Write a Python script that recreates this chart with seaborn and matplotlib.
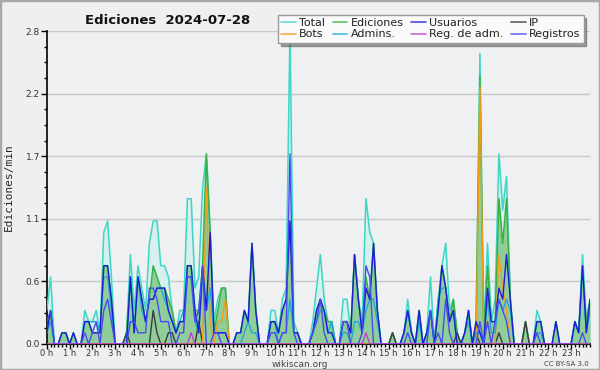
import numpy as np
import pandas as pd
import matplotlib
matplotlib.use('Agg')
import matplotlib.pyplot as plt
import seaborn as sns
from matplotlib.lines import Line2D
from matplotlib.patches import Rectangle
from matplotlib.ticker import FixedLocator, MultipleLocator, FormatStrFormatter

# --- datos: ediciones por minuto, intervalos de 10 min (6 por hora) ---
total = [
    0.3, 0.6, 0, 0, 0.1, 0.1,      # 0 h
    0, 0.1, 0, 0, 0.3, 0.2,        # 1 h
    0.2, 0.3, 0.1, 1.0, 1.1, 0.6,  # 2 h
    0, 0, 0, 0.1, 0.8, 0.3,        # 3 h
    0.7, 0.5, 0.3, 0.9, 1.1, 1.1,  # 4 h
    0.7, 0.7, 0.6, 0.3, 0.1, 0.3,  # 5 h
    0.3, 1.3, 1.3, 0.5, 0.6, 1.4,  # 6 h
    1.7, 1.0, 0.2, 0.4, 0.5, 0.5,  # 7 h
    0, 0, 0.1, 0.1, 0.3, 0.2,      # 8 h
    0.9, 0.3, 0, 0, 0, 0.3,        # 9 h
    0.3, 0.1, 0.4, 0.5, 2.8, 0.2,  # 10 h
    0.1, 0, 0, 0, 0.2, 0.5,        # 11 h
    0.8, 0.4, 0.2, 0.2, 0, 0,      # 12 h
    0.4, 0.4, 0.1, 0.8, 0.4, 0.2,  # 13 h
    1.3, 1.0, 0.9, 0.3, 0, 0,      # 14 h
    0, 0.1, 0, 0, 0.1, 0.4,        # 15 h
    0.1, 0, 0.3, 0, 0.1, 0.6,      # 16 h
    0, 0.4, 0.7, 0.9, 0.3, 0.4,    # 17 h
    0.1, 0, 0.1, 0.3, 0, 0.2,      # 18 h
    2.6, 0.1, 0.9, 0.2, 0.4, 1.7,  # 19 h
    1.2, 1.5, 0.4, 0, 0, 0,        # 20 h
    0.2, 0, 0, 0.3, 0.2, 0,        # 21 h
    0, 0, 0.2, 0, 0, 0,            # 22 h
    0, 0.2, 0.1, 0.8, 0.2, 0.4,    # 23 h
]
ediciones = [
    0.1, 0.3, 0, 0, 0.1, 0.1,
    0, 0.1, 0, 0, 0.2, 0.2,
    0.1, 0.1, 0.1, 0.7, 0.7, 0.4,
    0, 0, 0, 0.1, 0.6, 0.1,
    0.6, 0.4, 0.2, 0.4, 0.7, 0.6,
    0.5, 0.5, 0.4, 0.3, 0.1, 0.2,
    0.2, 0.7, 0.7, 0.3, 0.3, 0.7,
    1.7, 1.0, 0.1, 0.3, 0.5, 0.5,
    0, 0, 0.1, 0.1, 0.3, 0.2,
    0.9, 0.3, 0, 0, 0, 0.2,
    0.2, 0.1, 0.3, 0.4, 1.1, 0.1,
    0.1, 0, 0, 0, 0.1, 0.3,
    0.4, 0.3, 0.2, 0.2, 0, 0,
    0.2, 0.2, 0.1, 0.8, 0.4, 0.1,
    0.6, 0.4, 0.9, 0.3, 0, 0,
    0, 0.1, 0, 0, 0.1, 0.3,
    0.1, 0, 0.3, 0, 0.1, 0.3,
    0, 0.3, 0.7, 0.5, 0.2, 0.4,
    0.1, 0, 0.1, 0.3, 0, 0.2,
    2.4, 0.1, 0.7, 0.2, 0.2, 1.3,
    0.9, 1.3, 0.4, 0, 0, 0,
    0.2, 0, 0, 0.2, 0.2, 0,
    0, 0, 0.2, 0, 0, 0,
    0, 0.2, 0.1, 0.7, 0.2, 0.4,
]
usuarios = [
    0.1, 0.3, 0, 0, 0.1, 0.1,
    0, 0.1, 0, 0, 0.2, 0.2,
    0.1, 0.1, 0.1, 0.7, 0.7, 0.4,
    0, 0, 0, 0, 0.6, 0.1,
    0.6, 0.4, 0.2, 0.4, 0.4, 0.5,
    0.5, 0.5, 0.3, 0.2, 0.1, 0.2,
    0.2, 0.7, 0.7, 0.3, 0.1, 0.7,
    0.3, 1.0, 0.1, 0.1, 0.1, 0.1,
    0, 0, 0.1, 0.1, 0.3, 0.2,
    0.9, 0.3, 0, 0, 0, 0.2,
    0.2, 0.1, 0.3, 0.4, 1.1, 0.1,
    0.1, 0, 0, 0, 0.1, 0.3,
    0.4, 0.3, 0.1, 0.1, 0, 0,
    0.2, 0.2, 0.1, 0.8, 0.4, 0.1,
    0.5, 0.4, 0.9, 0.3, 0, 0,
    0, 0, 0, 0, 0.1, 0.3,
    0.1, 0, 0.3, 0, 0.1, 0.3,
    0, 0.3, 0.7, 0.5, 0.2, 0.3,
    0, 0, 0.1, 0.3, 0, 0.2,
    0.1, 0, 0.5, 0.2, 0.2, 0.5,
    0.4, 0.8, 0.4, 0, 0, 0,
    0, 0, 0, 0.2, 0.2, 0,
    0, 0, 0.2, 0, 0, 0,
    0, 0.2, 0.1, 0.7, 0.1, 0.4,
]
ip = [
    0, 0, 0, 0, 0, 0,
    0, 0, 0, 0, 0, 0,
    0, 0, 0, 0, 0, 0,
    0, 0, 0, 0.1, 0, 0,
    0, 0, 0, 0, 0.3, 0.1,
    0, 0, 0.1, 0.1, 0, 0,
    0, 0, 0, 0, 0.2, 0,
    0, 0, 0, 0, 0, 0,
    0, 0, 0, 0, 0, 0,
    0, 0, 0, 0, 0, 0,
    0, 0, 0, 0, 0, 0,
    0, 0, 0, 0, 0, 0,
    0, 0, 0, 0, 0, 0,
    0, 0, 0, 0, 0, 0,
    0, 0, 0, 0, 0, 0,
    0, 0.1, 0, 0, 0, 0,
    0, 0, 0, 0, 0, 0,
    0, 0, 0, 0, 0, 0,
    0.1, 0, 0, 0, 0, 0.1,
    0, 0, 0, 0, 0, 0.1,
    0, 0, 0, 0, 0, 0,
    0.2, 0, 0, 0, 0, 0,
    0, 0, 0, 0, 0, 0,
    0, 0, 0, 0, 0, 0,
]
bots = [
    0, 0, 0, 0, 0, 0,
    0, 0, 0, 0, 0, 0,
    0, 0, 0, 0, 0, 0,
    0, 0, 0, 0, 0, 0,
    0, 0, 0, 0, 0, 0,
    0, 0, 0, 0, 0, 0,
    0, 0, 0, 0, 0, 0,
    1.4, 0.2, 0, 0.2, 0.2, 0.4,
    0, 0, 0, 0, 0, 0,
    0, 0, 0, 0, 0, 0,
    0, 0, 0, 0, 0, 0,
    0, 0, 0, 0, 0, 0,
    0, 0, 0, 0, 0, 0,
    0, 0, 0, 0, 0, 0,
    0, 0, 0, 0, 0, 0,
    0, 0, 0, 0, 0, 0,
    0, 0, 0, 0, 0, 0,
    0, 0, 0, 0, 0, 0,
    0, 0, 0, 0, 0, 0,
    2.3, 0.1, 0.2, 0, 0, 0.8,
    0.5, 0.3, 0, 0, 0, 0,
    0, 0, 0, 0, 0, 0,
    0, 0, 0, 0, 0, 0,
    0, 0, 0, 0, 0, 0,
]
admins = [
    0.1, 0.2, 0, 0, 0, 0,
    0, 0, 0, 0, 0.2, 0.2,
    0.2, 0.2, 0.1, 0.6, 0.6, 0.3,
    0, 0, 0, 0, 0.6, 0.1,
    0.6, 0.3, 0.2, 0.4, 0.4, 0.5,
    0.5, 0.4, 0.3, 0.2, 0.1, 0.2,
    0.3, 0.6, 0.6, 0.2, 0.1, 0.6,
    0.3, 0.5, 0.1, 0.1, 0.1, 0.1,
    0, 0, 0, 0, 0.1, 0.2,
    0.1, 0.1, 0, 0, 0, 0.2,
    0.2, 0, 0.1, 0.1, 0.4, 0.1,
    0.1, 0, 0, 0, 0.1, 0.2,
    0.3, 0.3, 0.1, 0.2, 0, 0,
    0.1, 0.1, 0, 0.2, 0.2, 0.1,
    0.3, 0.4, 0.4, 0.2, 0, 0,
    0, 0, 0, 0, 0.1, 0.3,
    0.1, 0, 0.2, 0, 0.1, 0.3,
    0, 0.4, 0.5, 0.5, 0.2, 0.3,
    0, 0, 0.1, 0.2, 0, 0.1,
    0.1, 0, 0.4, 0.1, 0.1, 0.4,
    0.3, 0.4, 0.3, 0, 0, 0,
    0, 0, 0, 0.1, 0.1, 0,
    0, 0, 0, 0, 0, 0,
    0, 0.2, 0.1, 0.7, 0.1, 0.3,
]
reg_adm = [0] * 144
reg_adm[38] = 0.1
reg_adm[84] = 0.1
registros = [
    0.2, 0.3, 0, 0, 0, 0,
    0, 0, 0, 0, 0.1, 0,
    0.1, 0.2, 0, 0.3, 0.4, 0.2,
    0, 0, 0, 0, 0.2, 0.2,
    0.1, 0.1, 0.1, 0.5, 0.5, 0.4,
    0.2, 0.2, 0.2, 0, 0, 0.1,
    0.1, 0.6, 0.6, 0.2, 0.3, 0.7,
    0, 0, 0.1, 0.1, 0, 0,
    0, 0, 0, 0, 0, 0,
    0, 0, 0, 0, 0, 0.1,
    0.1, 0, 0.1, 0.1, 1.7, 0.1,
    0, 0, 0, 0, 0.1, 0.2,
    0.4, 0.1, 0, 0, 0, 0,
    0.2, 0.2, 0, 0, 0, 0.1,
    0.7, 0.6, 0, 0, 0, 0,
    0, 0, 0, 0, 0, 0.1,
    0, 0, 0, 0, 0, 0.3,
    0, 0.1, 0, 0.4, 0.1, 0,
    0, 0, 0, 0, 0, 0,
    0.2, 0, 0.2, 0, 0.2, 0.4,
    0.3, 0.2, 0, 0, 0, 0,
    0, 0, 0, 0.1, 0, 0,
    0, 0, 0, 0, 0, 0,
    0, 0, 0, 0.1, 0, 0,
]

df = pd.DataFrame({
    'hora': np.arange(144) / 6,
    'Total': total, 'Ediciones': ediciones, 'Usuarios': usuarios, 'IP': ip,
    'Bots': bots, 'Admins.': admins, 'Reg. de adm.': reg_adm, 'Registros': registros,
})

colores = {
    'Total': '#3fd6c6', 'Ediciones': '#3cb043', 'Usuarios': '#1c1cd6', 'IP': '#3a3a3a',
    'Bots': '#f59a1b', 'Admins.': '#1ea8dc', 'Reg. de adm.': '#c83cd8', 'Registros': '#4a4af2',
}

sns.set_theme(style='white')
plt.rcParams['font.family'] = ['DejaVu Sans']

fig = plt.figure(figsize=(6, 3.7), dpi=100, facecolor='#efefef')
ax = fig.add_axes([0.078, 0.0703, 0.9055, 0.8459])
ax.set_facecolor('#eef0f1')

# rellenos
ax.fill_between(df['hora'], df['Total'], color='#d6f1ed', zorder=1)
ax.fill_between(df['hora'], df['Ediciones'], color='#62b862', alpha=0.6, lw=0, zorder=2)

orden_lineas = ['Total', 'Ediciones', 'IP', 'Bots', 'Admins.', 'Usuarios', 'Registros', 'Reg. de adm.']
anchos = {'Total': 1.1, 'Ediciones': 1.1}
for serie in orden_lineas:
    sns.lineplot(data=df, x='hora', y=serie, ax=ax, color=colores[serie],
                 lw=anchos.get(serie, 1.0), zorder=3, legend=False)

# ejes
ax.set_xlim(0, 143 / 6)
ax.set_ylim(0, 2.8)
ax.xaxis.set_major_locator(FixedLocator(range(24)))
ax.set_xticklabels([f'{h} h' for h in range(24)])
ax.xaxis.set_minor_locator(MultipleLocator(1 / 6))
ax.yaxis.set_major_locator(FixedLocator(np.linspace(0, 2.8, 6)))
ax.yaxis.set_minor_locator(MultipleLocator(0.14))
ax.yaxis.set_major_formatter(FormatStrFormatter('%.1f'))
ax.tick_params(axis='both', which='major', direction='out', length=4, width=1,
               color='black', labelsize=6.5, labelcolor='#333333', pad=1)
ax.tick_params(axis='both', which='minor', direction='out', length=2.5, width=1, color='black')
ax.tick_params(axis='x', which='major', length=3.5, labelsize=6, pad=0)
ax.tick_params(bottom=True, left=True, which='both')
ax.grid(axis='y', color='#c8c8c8', lw=1)
ax.grid(axis='x', visible=False)
ax.set_axisbelow(True)
for lado in ['top', 'right']:
    ax.spines[lado].set_visible(False)
for lado in ['left', 'bottom']:
    ax.spines[lado].set_color('black')
    ax.spines[lado].set_linewidth(1.2)
ax.set_xlabel('')
ax.set_ylabel('Ediciones/min', family='DejaVu Sans Mono', fontsize=8, labelpad=8)

# leyenda en dos filas
orden_leyenda = ['Total', 'Bots', 'Ediciones', 'Admins.', 'Usuarios', 'Reg. de adm.', 'IP', 'Registros']
manijas = [Line2D([], [], color=colores[s], lw=1.2, alpha=0.8) for s in orden_leyenda]
leg = fig.legend(manijas, orden_leyenda, loc='upper right', bbox_to_anchor=(0.982, 0.975),
                 ncol=4, fontsize=8, frameon=True, fancybox=False, shadow=True,
                 handlelength=1.3, handletextpad=0.3, columnspacing=0.7, labelspacing=0.12,
                 borderpad=0.3, facecolor='#fafafa', edgecolor='#9a9a9a', framealpha=1)
for t in leg.get_texts():
    t.set_color('#222222')

fig.text(0.28, 0.945, 'Ediciones  2024-07-28', fontsize=9.5, fontweight='bold',
         ha='center', va='center', color='#111111')
fig.text(0.5, 0.016, 'wikiscan.org', fontsize=6.5, ha='center', va='center', color='#444444')
fig.text(0.982, 0.016, 'CC BY-SA 3.0', fontsize=5, ha='right', va='center', color='#444444')

fig.patches.append(Rectangle((0, 0), 1, 1, transform=fig.transFigure, fill=False,
                             edgecolor='#a8a8a8', lw=2.5))

fig.savefig('out.png', dpi=100, facecolor=fig.get_facecolor())
